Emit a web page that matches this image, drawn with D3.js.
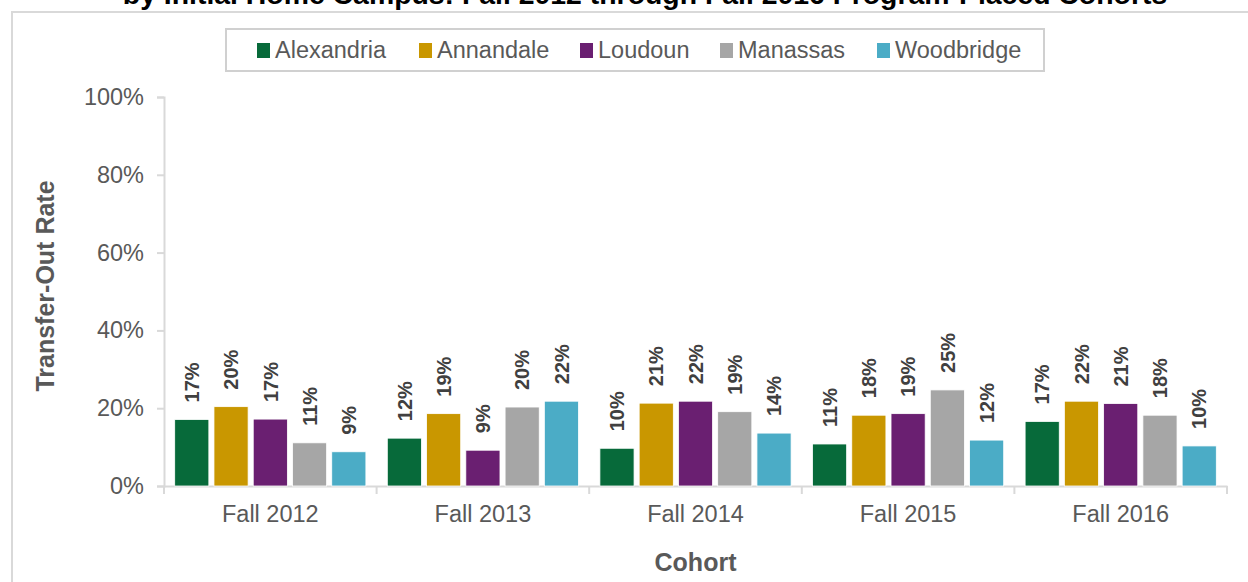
<!DOCTYPE html>
<html>
<head>
<meta charset="utf-8">
<script src="https://cdn.jsdelivr.net/npm/d3@7"></script>
<style>
  body { margin: 0; background: #fff; }
  svg text { font-family: "Liberation Sans", Arial, sans-serif; }
</style>
</head>
<body>
<div class="chart"></div>
<script>
const cohorts = ["Fall 2012", "Fall 2013", "Fall 2014", "Fall 2015", "Fall 2016"];
const campuses = ["Alexandria", "Annandale", "Loudoun", "Manassas", "Woodbridge"];
const alexandria = [17.1, 12.3, 9.7, 10.8, 16.6];
const annandale = [20.4, 18.6, 21.3, 18.2, 21.8];
const loudoun = [17.2, 9.2, 21.8, 18.6, 21.2];
const manassas = [11.1, 20.3, 19.1, 24.7, 18.2];
const woodbridge = [8.8, 21.8, 13.6, 11.8, 10.3];
const yTicks = [0, 20, 40, 60, 80, 100];
const colors = ["#076a3a", "#c99700", "#6a1f71", "#a6a6a6", "#4bacc6"];

const series = [alexandria, annandale, loudoun, manassas, woodbridge];
const data = cohorts.map((c, i) => ({
  cohort: c,
  values: campuses.map((k, j) => ({ campus: k, value: series[j][i] }))
}));

const width = 1248, height = 582;

// plot area
const margin = { top: 97, bottom: 96, left: 164, right: 21 };

const svg = d3.select(".chart")
  .append("svg")
  .attr("width", width)
  .attr("height", height);

// outer frame
svg.append("rect")
  .attr("x", 12).attr("y", 12)
  .attr("width", width).attr("height", height)
  .attr("fill", "none")
  .attr("stroke", "#d9d9d9")
  .attr("stroke-width", 2);

// title (cut off at top)
svg.append("text")
  .attr("x", 645).attr("y", 4)
  .attr("text-anchor", "middle")
  .attr("font-size", 28.4)
  .attr("font-weight", "bold")
  .attr("fill", "#000")
  .text("by Initial Home Campus: Fall 2012 through Fall 2016 Program-Placed Cohorts");

const x0 = d3.scaleBand()
  .domain(cohorts)
  .range([margin.left, width - margin.right])
  .padding(0);

const x1 = d3.scaleBand()
  .domain(campuses)
  .range([10.7, x0.bandwidth() - 10.7])
  .paddingInner(0.13);

const y = d3.scaleLinear()
  .domain([0, 100])
  .range([height - margin.bottom, margin.top]);

const color = d3.scaleOrdinal(campuses, colors);

// y axis
const yAxis = svg.append("g")
  .attr("transform", `translate(${margin.left},0)`)
  .call(d3.axisLeft(y).tickValues(yTicks).tickSize(7).tickPadding(13).tickFormat(d => d + "%"));
yAxis.select(".domain").attr("stroke", "#d9d9d9").attr("stroke-width", 2);
yAxis.selectAll(".tick line").attr("stroke", "#d9d9d9").attr("stroke-width", 2);
yAxis.selectAll(".tick text")
  .attr("font-size", 23.5)
  .attr("fill", "#595959")
  .attr("font-family", "Liberation Sans, Arial, sans-serif");

// x axis
const xAxis = svg.append("g")
  .attr("transform", `translate(0,${height - margin.bottom})`)
  .call(d3.axisBottom(x0).tickSize(0).tickPadding(19));
xAxis.select(".domain").attr("stroke", "#d9d9d9").attr("stroke-width", 2);
xAxis.selectAll(".tick text")
  .attr("font-size", 23.5)
  .attr("fill", "#595959")
  .attr("font-family", "Liberation Sans, Arial, sans-serif");

// category boundary ticks
svg.append("g")
  .selectAll("line")
  .data(cohorts.concat(["end"]))
  .join("line")
  .attr("x1", (d, i) => i < cohorts.length ? x0(d) : x0.range()[1])
  .attr("x2", (d, i) => i < cohorts.length ? x0(d) : x0.range()[1])
  .attr("y1", height - margin.bottom)
  .attr("y2", height - margin.bottom + 8)
  .attr("stroke", "#d9d9d9")
  .attr("stroke-width", 2);

// bars
const groups = svg.append("g")
  .selectAll("g")
  .data(data)
  .join("g")
  .attr("transform", d => `translate(${x0(d.cohort)},0)`);

groups.selectAll("rect")
  .data(d => d.values)
  .join("rect")
  .attr("x", d => x1(d.campus))
  .attr("y", d => y(d.value))
  .attr("width", x1.bandwidth())
  .attr("height", d => y(0) - y(d.value))
  .attr("fill", d => color(d.campus))
  .attr("stroke", "#fff")
  .attr("stroke-width", 0.8);

// value labels (rotated)
groups.selectAll("text")
  .data(d => d.values)
  .join("text")
  .attr("transform", d => `translate(${x1(d.campus) + x1.bandwidth() / 2},${y(d.value) - 17}) rotate(-90)`)
  .attr("dy", "0.36em")
  .attr("font-size", 20)
  .attr("font-weight", "bold")
  .attr("fill", "#404040")
  .text(d => Math.round(d.value) + "%");

// axis titles
svg.append("text")
  .attr("transform", `translate(54,286) rotate(-90)`)
  .attr("text-anchor", "middle")
  .attr("font-size", 25)
  .attr("font-weight", "bold")
  .attr("fill", "#595959")
  .text("Transfer-Out Rate");

svg.append("text")
  .attr("x", x0.range()[0] + (x0.range()[1] - x0.range()[0]) / 2)
  .attr("y", 571)
  .attr("text-anchor", "middle")
  .attr("font-size", 25)
  .attr("font-weight", "bold")
  .attr("fill", "#595959")
  .text("Cohort");

// legend
const legendX = [257, 419, 580, 720, 877];
svg.append("rect")
  .attr("x", 226).attr("y", 29)
  .attr("width", 818).attr("height", 42)
  .attr("fill", "#fff")
  .attr("stroke", "#d0d0d0")
  .attr("stroke-width", 2);

const legend = svg.append("g")
  .selectAll("g")
  .data(campuses)
  .join("g")
  .attr("transform", (d, i) => `translate(${legendX[i]},0)`);

legend.append("rect")
  .attr("x", 0).attr("y", 43)
  .attr("width", 13).attr("height", 15)
  .attr("fill", color);

legend.append("text")
  .attr("x", 18).attr("y", 58)
  .attr("font-size", 23.5)
  .attr("fill", "#595959")
  .text(d => d);
</script>
</body>
</html>
